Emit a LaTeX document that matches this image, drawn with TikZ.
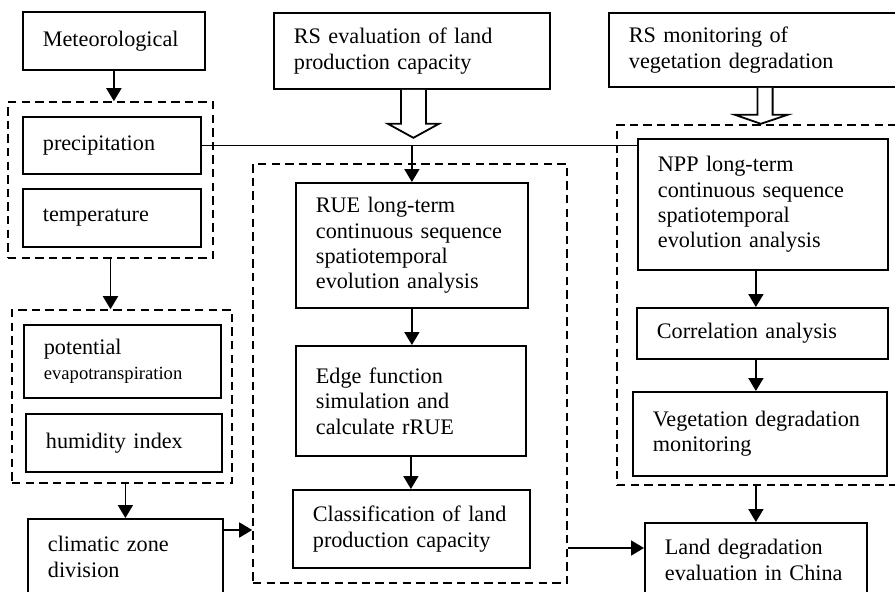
\documentclass[tikz,border=0pt]{standalone}
\usepackage{fontspec}
\setmainfont{Liberation Serif}
\usetikzlibrary{arrows.meta, fit}

\begin{document}
\begin{tikzpicture}[x=0.5pt, y=-0.5pt,
    box/.style={draw, line width=0.9pt, anchor=north west, align=left, inner xsep=10pt, inner ysep=0pt, font=\fontsize{11.1pt}{12.7pt}\selectfont},
    group/.style={draw, dash pattern=on 4.2pt off 2.6pt, line width=0.8pt, inner sep=0pt},
    arr/.style={-{Triangle[width=7.5pt,length=6.5pt]}, line width=0.9pt},
    hollow/.style={line width=0.9pt, fill=white}]

    \useasboundingbox (0,0) rectangle (895,591);

    % Left column: climate data
    \node[box, text width=71pt, minimum height=29pt] (met) at (22,11) {Meteorological};
    \node[box, text width=69pt, minimum height=28.5pt] (prec) at (22,116) {precipitation};
    \node[box, text width=69pt, minimum height=29pt] (temp) at (22,188) {temperature};
    \node[box, text width=78.5pt, minimum height=36.5pt] (pot) at (23,324) {potential\\{\fontsize{9.3pt}{11pt}\selectfont evapotranspiration}};
    \node[box, text width=78pt, minimum height=29pt] (hum) at (25,413) {humidity index};
    \node[box, text width=77.5pt, minimum height=38pt] (clim) at (27,518) {climatic zone\\division};

    % Middle column: land production capacity
    \node[box, text width=118pt, minimum height=38pt] (rse) at (273,12) {RS evaluation of land\\production capacity};
    \node[box, text width=96pt, minimum height=62.5pt] (rue) at (295,182) {RUE long-term\\continuous sequence\\spatiotemporal\\evolution analysis};
    \node[box, text width=95pt, minimum height=55pt] (edge) at (295,345) {Edge function\\simulation and\\calculate rRUE};
    \node[box, text width=98.5pt, minimum height=39pt] (cls) at (292,489) {Classification of land\\production capacity};

    % Right column: vegetation degradation
    \node[box, text width=132pt, minimum height=37pt] (rsm) at (608,12) {RS monitoring of\\vegetation degradation};
    \node[box, text width=105pt, minimum height=65.5pt] (npp) at (637,138) {NPP long-term\\continuous sequence\\spatiotemporal\\evolution analysis};
    \node[box, text width=105.5pt, minimum height=25.5pt] (cor) at (636,307) {Correlation analysis};
    \node[box, text width=107pt, minimum height=42pt] (veg) at (632,391) {Vegetation degradation\\monitoring};
    \node[box, text width=91pt, minimum height=37pt] (lnd) at (644,522) {Land degradation\\evaluation in China};

    % Dashed groups
    \node[group, fit={(8,102) (213,258)}] (g1) {};
    \node[group, fit={(12,310) (232,483)}] (g2) {};
    \node[group, fit={(253,164) (567,583)}] (g3) {};
    \node[group, fit={(617,125) (910,485)}] (g4) {};

    % Hollow arrows
    \draw[hollow] (rse.south) ++(-11,0) -- ++(0,34) -- ++(-13,0) -- ++(25.5,14) -- ++(25.5,-14) -- ++(-13,0) -- ++(0,-34);
    \draw[hollow] (rsm.south) ++(-3.5,0) -- ++(0,27) -- ++(-22.5,0) -- ++(26,9) -- ++(26.7,-9) -- ++(-15,0) -- ++(0,-27);

    % Connectors
    \draw[arr] (met.south) -- (met.south |- g1.north);
    \draw[arr] (g1.south) -- (g1.south |- g2.north);
    \draw[arr] (clim.north |- g2.south) -- (clim.north);
    \coordinate (climout) at ([yshift=-6pt]clim.north east);
    \draw[arr] (climout) -- (climout -| g3.west);
    \draw[line width=0.9pt] (prec.east) -- (prec.east -| npp.west);
    \draw[arr] (rue.north |- prec.east) -- (rue.north);
    \draw[arr] (rue.south) -- (rue.south |- edge.north);
    \draw[arr] (edge.south) -- (edge.south |- cls.north);
    \draw[arr] (npp.south -| lnd.north) -- (cor.north -| lnd.north);
    \draw[arr] (cor.south -| lnd.north) -- (veg.north -| lnd.north);
    \draw[arr] (g4.south -| lnd.north) -- (lnd.north);
    \coordinate (lndin) at ([yshift=-13pt]lnd.north west);
    \draw[arr] (lndin -| g3.east) -- (lndin);
\end{tikzpicture}
\end{document}
